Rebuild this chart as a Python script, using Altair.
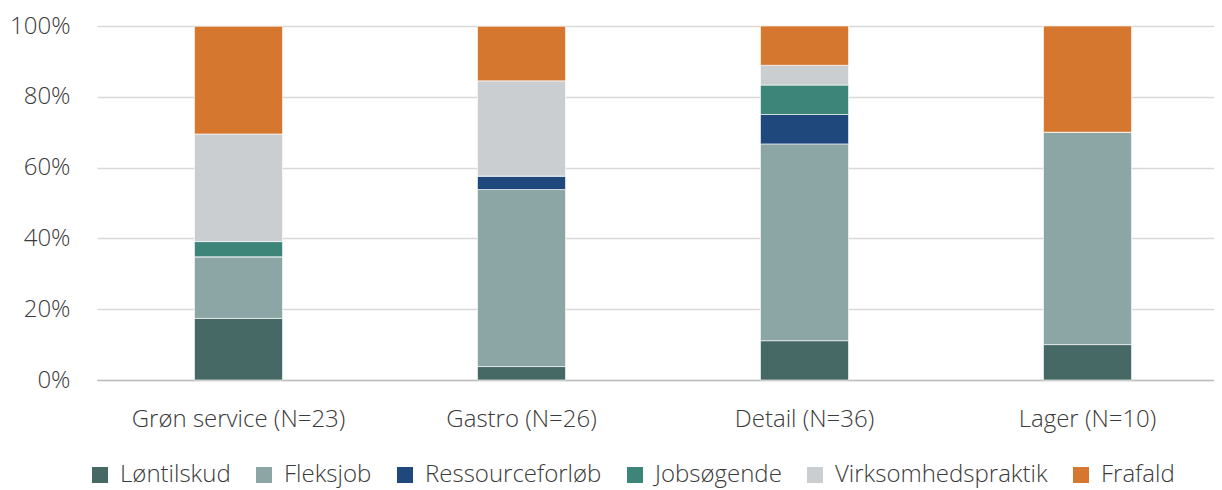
import altair as alt
import pandas as pd

categories = ["Grøn service (N=23)", "Gastro (N=26)", "Detail (N=36)", "Lager (N=10)"]
series = ["Løntilskud", "Fleksjob", "Ressourceforløb", "Jobsøgende", "Virksomhedspraktik", "Frafald"]
colors = ["#466966", "#8ba6a4", "#1f497d", "#3d8479", "#cbced1", "#d5772f"]

loentilskud = [17.4, 3.8, 11.1, 10.0]
fleksjob = [17.4, 50.0, 55.6, 60.0]
ressourceforloeb = [0.0, 3.8, 8.3, 0.0]
jobsoegende = [4.3, 0.0, 8.3, 0.0]
virksomhedspraktik = [30.4, 26.9, 5.6, 0.0]
frafald = [30.4, 15.4, 11.1, 30.0]

values = [loentilskud, fleksjob, ressourceforloeb, jobsoegende, virksomhedspraktik, frafald]
rows = []
for si, (s, vals) in enumerate(zip(series, values)):
    for c, v in zip(categories, vals):
        rows.append({"Kategori": c, "Type": s, "Andel": v / 100.0, "Orden": si})
df = pd.DataFrame(rows)

font = "Open Sans"
fs = 24
tc = "#3a3a3a"
chart = alt.Chart(df).mark_bar(size=88, stroke="white", strokeWidth=0.6).encode(
    x=alt.X("Kategori:N", sort=categories, title=None,
            scale=alt.Scale(range=[0, 1132], paddingInner=0.689, paddingOuter=0.3445),
            axis=alt.Axis(labelAngle=0, labelFontSize=fs, labelFont=font, labelColor=tc,
                          labelFontWeight=300, ticks=False, domainColor="#bfbfbf", domainWidth=1.5,
                          labelPadding=27, labelLimit=0)),
    y=alt.Y("Andel:Q", stack="zero", title=None,
            scale=alt.Scale(domain=[0, 1]),
            axis=alt.Axis(format=".0%", values=[0, 0.2, 0.4, 0.6, 0.8, 1.0], labelFontSize=fs,
                          labelFont=font, labelColor=tc, labelFontWeight=300,
                          ticks=False, domain=False, gridColor="#d9d9d9", gridWidth=1.5,
                          labelPadding=27)),
    color=alt.Color("Type:N", scale=alt.Scale(domain=series, range=colors),
                    legend=alt.Legend(orient="none", legendX=-9, legendY=437,
                                      direction="horizontal", title=None,
                                      symbolType="square", symbolSize=256, symbolStrokeWidth=0,
                                      labelFontSize=fs, labelFont=font, labelColor=tc,
                                      labelFontWeight=300, columnPadding=21, labelOffset=8,
                                      labelLimit=0, symbolOffset=0)),
    order=alt.Order("Orden:Q", sort="ascending"),
).properties(
    width=1117, height=354,
    autosize=alt.AutoSizeParams(type="none"),
    padding={"left": 89, "top": 18, "right": 0, "bottom": 120},
).configure_view(stroke=None)

chart.save("out.html", embed_options={"renderer": "svg", "actions": False})
